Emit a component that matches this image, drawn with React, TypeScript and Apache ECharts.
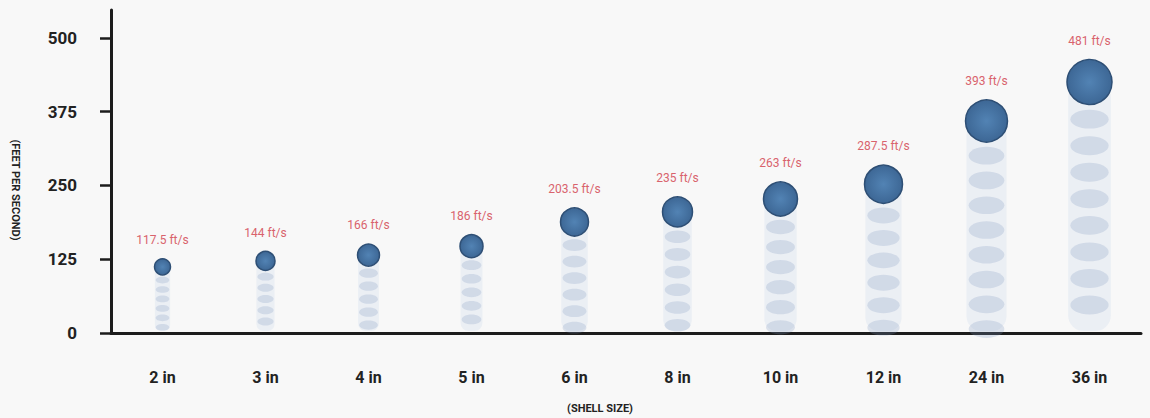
import React, { useEffect, useRef } from "react";
import * as echarts from "echarts";

const shellSizes = ["2 in", "3 in", "4 in", "5 in", "6 in", "8 in", "10 in", "12 in", "24 in", "36 in"];
// vertical position of each drawn bubble
const bubbleHeights = [112, 122, 132, 147, 188, 205, 227, 252, 359, 425];
// speeds printed above each bubble (ft/s)
const speedLabels = [117.5, 144, 166, 186, 203.5, 235, 263, 287.5, 393, 481];
// bubble diameters in px
const bubbleDiameters = [16, 19, 22, 23, 28, 30, 34, 38, 42, 45];
const yTicks = [0, 125, 250, 375, 500];

const FONT = "Roboto,'Liberation Sans',sans-serif";

export default function App() {
  const ref = useRef<HTMLDivElement>(null);
  useEffect(() => {
    if (!ref.current) return;
    const chart = echarts.init(ref.current, null, { renderer: "svg" });
    const pts = bubbleHeights.map((v, i) => [i, v]);
    chart.setOption({
      animation: false,
      backgroundColor: "#f8f8f8",
      grid: { left: 111, right: 9, top: 10, bottom: 85 },
      xAxis: {
        type: "category",
        data: shellSizes,
        axisLine: { lineStyle: { color: "#1c1c1c", width: 3 } },
        axisTick: { alignWithLabel: true, length: 11, lineStyle: { color: "#1c1c1c", width: 2.5 } },
        axisLabel: { margin: 36, color: "#222", fontSize: 16, fontWeight: "bold", fontFamily: FONT },
        splitLine: { show: false },
      },
      yAxis: {
        type: "value",
        min: 0,
        max: 547,
        axisLine: { show: true, lineStyle: { color: "#1c1c1c", width: 3 } },
        axisTick: { show: true, length: 11, customValues: yTicks, lineStyle: { color: "#1c1c1c", width: 2.5 } },
        axisLabel: { margin: 34, customValues: yTicks, color: "#222", fontSize: 17, fontWeight: "bold", fontFamily: FONT },
        splitLine: { show: false },
      },
      graphic: [
        {
          type: "text",
          x: 600,
          y: 408,
          style: { text: "(SHELL SIZE)", fill: "#222", font: `bold 11px ${FONT}`, textAlign: "center", textVerticalAlign: "middle" },
        },
        {
          type: "text",
          x: 15,
          y: 190,
          rotation: -Math.PI / 2,
          style: { text: "(FEET PER SECOND)", fill: "#222", font: `bold 11px ${FONT}`, textAlign: "center", textVerticalAlign: "middle" },
        },
      ],
      series: [
        {
          type: "custom",
          coordinateSystem: "cartesian2d",
          data: pts,
          encode: { x: 0, y: 1 },
          z: 1,
          silent: true,
          renderItem: (params: any, api: any) => {
            const idx = api.value(0);
            const v = api.value(1);
            const r = bubbleDiameters[params.dataIndex] / 2;
            const c = api.coord([idx, v]);
            const base = api.coord([idx, 0])[1];
            const cx = c[0];
            const cy = c[1];
            const children: any[] = [];
            children.push({
              type: "rect",
              shape: { x: cx - r * 0.95, y: cy, width: r * 1.9, height: base - cy - 2, r: r * 0.7 },
              style: { fill: "rgba(185,203,228,0.2)" },
            });
            const step = r * 1.18;
            const rx = r * 0.85;
            const ry = r * 0.42;
            for (let y = cy + r + step * 0.55; y < base - 2; y += step) {
              children.push({
                type: "ellipse",
                shape: { cx, cy: y, rx, ry },
                style: { fill: "rgba(125,150,192,0.24)" },
              });
            }
            return { type: "group", children };
          },
        },
        {
          type: "scatter",
          data: pts,
          z: 3,
          symbol: "circle",
          symbolSize: (_v: any, p: any) => bubbleDiameters[p.dataIndex],
          itemStyle: {
            color: {
              type: "radial",
              x: 0.5,
              y: 0.5,
              r: 0.5,
              colorStops: [
                { offset: 0, color: "#5283b4" },
                { offset: 1, color: "#3d6795" },
              ],
            },
            borderColor: "#2e4f75",
            borderWidth: 1.5,
            opacity: 1,
          },
          label: {
            show: true,
            position: "top",
            distance: 12,
            color: "#d9636d",
            fontSize: 12,
            fontFamily: FONT,
            formatter: (p: any) => `${speedLabels[p.dataIndex]} ft/s`,
          },
        },
      ],
    });
    return () => chart.dispose();
  }, []);
  return <div ref={ref} style={{ position: "absolute", left: 0, top: 0, width: 1150, height: 418 }} />;
}
